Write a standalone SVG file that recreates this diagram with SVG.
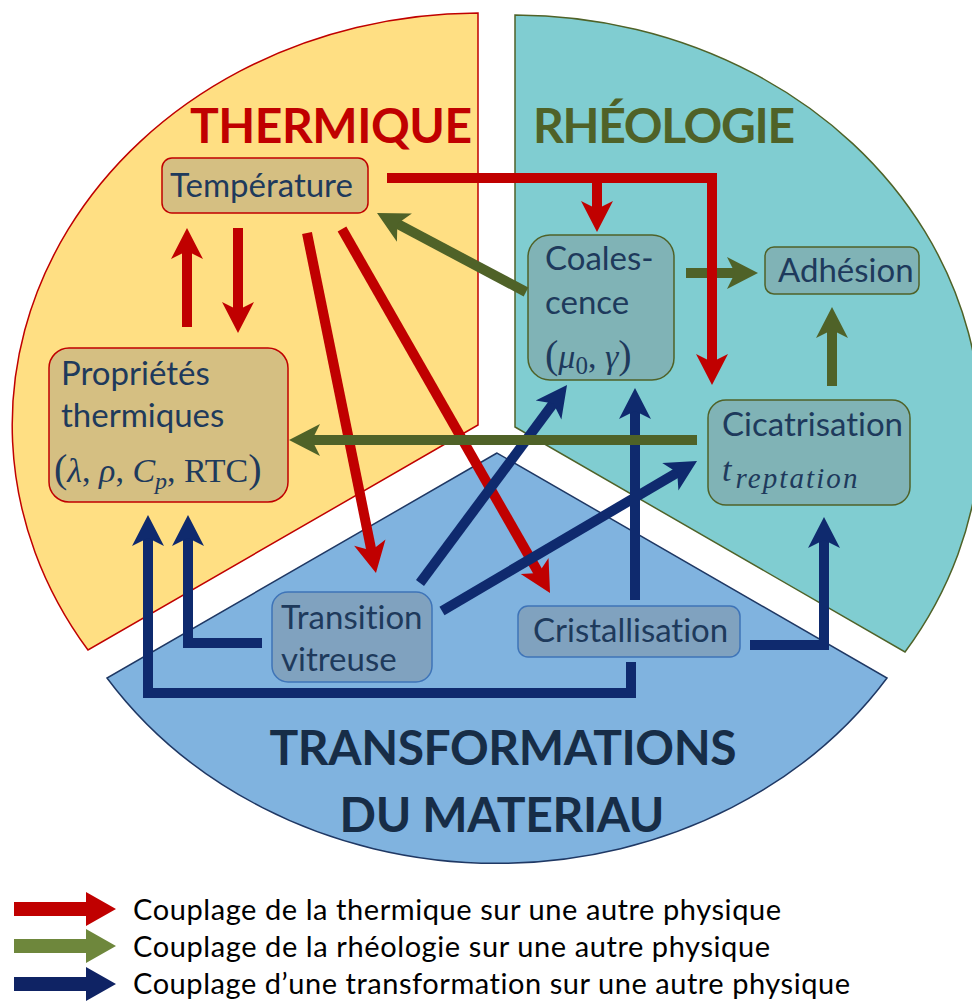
<svg xmlns="http://www.w3.org/2000/svg" width="972" height="1001" viewBox="0 0 972 1001">
<defs>
<style>
text{font-variant-ligatures:none;font-feature-settings:"liga" 0,"dlig" 0}
.sec{stroke-width:1.5}
.title{font-family:Lato,'Open Sans',sans-serif;font-weight:700;font-size:48px}
.node{fill:#808080;fill-opacity:0.33;stroke-width:1.5}
.nt{font-family:Lato,'Open Sans',sans-serif;font-size:33px;fill:#1E3A5C}
.math{font-family:'Liberation Serif','DejaVu Serif',serif;font-size:34px;fill:#1E3A5C}
.it{font-style:italic}
.c{fill:none;stroke-width:10;stroke-linejoin:miter}
.r{stroke:#C00000}
.g{stroke:#4F6228}
.b{stroke:#0F2A6E}
.lg{font-family:Lato,'Open Sans',sans-serif;font-size:29px;fill:#000}
</style>
<marker id="ar" markerUnits="userSpaceOnUse" viewBox="-32 -17 34 34" markerWidth="34" markerHeight="34" refX="-20" refY="0" orient="auto"><path d="M0,0 L-31,-16 L-23,0 L-31,16 Z" fill="#C00000"/></marker>
<marker id="ag" markerUnits="userSpaceOnUse" viewBox="-32 -17 34 34" markerWidth="34" markerHeight="34" refX="-20" refY="0" orient="auto"><path d="M0,0 L-31,-16 L-23,0 L-31,16 Z" fill="#4F6228"/></marker>
<marker id="ab" markerUnits="userSpaceOnUse" viewBox="-32 -17 34 34" markerWidth="34" markerHeight="34" refX="-20" refY="0" orient="auto"><path d="M0,0 L-31,-16 L-23,0 L-31,16 Z" fill="#0F2A6E"/></marker>
</defs>
<rect width="972" height="1001" fill="#FFFFFF"/>
<g id="sectors">
<path class="sec" d="M478,425 L478,13 A467,412 0 0 0 88,650 Z" fill="#FFDF83" stroke="#C00000"/>
<path class="sec" d="M515,427 L515,15 A467,412 0 0 1 905,652 Z" fill="#80CDD1" stroke="#4F6228"/>
<path class="sec" d="M497,453 L107,678 A467,412 0 0 0 887,678 Z" fill="#80B3DF" stroke="#1F3864"/>
</g>
<g id="titles">
<text class="title" x="190" y="143" fill="#C00000" textLength="282">THERMIQUE</text>
<text class="title" x="533" y="143" fill="#4F6228" textLength="262">RHÉOLOGIE</text>
<text class="title" x="503" y="765" fill="#172D47" text-anchor="middle" textLength="467">TRANSFORMATIONS</text>
<text class="title" x="502" y="832" fill="#172D47" text-anchor="middle" textLength="325">DU MATERIAU</text>
</g>
<g id="temperature">
<rect class="node" x="162" y="158" width="206" height="55" rx="10" stroke="#C00000"/>
<text class="nt" x="170" y="197">Température</text>
</g>
<g id="proprietes">
<rect class="node" x="49" y="348" width="239" height="154" rx="20" stroke="#C00000"/>
<text class="nt" x="61" y="385">Propriétés</text>
<text class="nt" x="61" y="427">thermiques</text>
<text class="math" x="54" y="482"><tspan font-size="40">(</tspan><tspan class="it">λ</tspan>, <tspan class="it">ρ</tspan>, <tspan class="it">C</tspan><tspan class="it" font-size="24" dy="7">p</tspan><tspan dy="-7">, RTC</tspan><tspan font-size="40">)</tspan></text>
</g>
<g id="coalescence">
<rect class="node" x="528" y="235" width="146" height="145" rx="22" stroke="#4F6228"/>
<text class="nt" x="545" y="270">Coales-</text>
<text class="nt" x="545" y="314">cence</text>
<text class="math" x="545" y="368" font-size="36"><tspan font-size="40">(</tspan><tspan class="it">μ</tspan><tspan font-size="25" dy="6">0</tspan><tspan dy="-6">, </tspan><tspan class="it">γ</tspan><tspan font-size="40">)</tspan></text>
</g>
<g id="adhesion">
<rect class="node" x="765" y="247" width="154" height="47" rx="9" stroke="#4F6228"/>
<text class="nt" x="778" y="282">Adhésion</text>
</g>
<g id="cicatrisation">
<rect class="node" x="708" y="400" width="202" height="105" rx="18" stroke="#4F6228"/>
<text class="nt" x="722" y="436">Cicatrisation</text>
<text class="math" x="722" y="481" font-size="38"><tspan class="it">t</tspan><tspan class="it" font-size="29" dx="4" dy="7" textLength="122">reptation</tspan></text>
</g>
<g id="transition">
<rect class="node" x="272" y="592" width="160" height="90" rx="16" stroke="#3E74B8"/>
<text class="nt" x="281" y="629">Transition</text>
<text class="nt" x="281" y="671">vitreuse</text>
</g>
<g id="cristallisation">
<rect class="node" x="518" y="606" width="222" height="51" rx="10" stroke="#3E74B8"/>
<text class="nt" x="533" y="642">Cristallisation</text>
</g>
<g id="connectors">
<path class="c r" d="M307,233 L372,553.4" marker-end="url(#ar)"/>
<path class="c r" d="M342,229 L540.1,575.6" marker-end="url(#ar)"/>
<path class="c b" d="M420,583 L555.1,401.1" marker-end="url(#ab)"/>
<path class="c b" d="M442,611 L679.8,471.1" marker-end="url(#ab)"/>
<path class="c b" d="M635,600 V408" marker-end="url(#ab)"/>
<path class="c b" d="M631,662 V693 H148 V535" marker-end="url(#ab)"/>
<path class="c b" d="M262,643 H188 V535" marker-end="url(#ab)"/>
<path class="c b" d="M750,645 H824 V537" marker-end="url(#ab)"/>
<path class="c g" d="M697,440 H309" marker-end="url(#ag)"/>
<path class="c g" d="M526,292 L394.7,222.4" marker-end="url(#ag)"/>
<path class="c g" d="M832,386 V327" marker-end="url(#ag)"/>
<path class="c g" d="M686,273 H738" marker-end="url(#ag)"/>
<path class="c r" d="M387,178 H712 V365" marker-end="url(#ar)"/>
<path class="c r" d="M597,178 V212" marker-end="url(#ar)"/>
<path class="c r" d="M187,327 V248" marker-end="url(#ar)"/>
<path class="c r" d="M238,228 V313" marker-end="url(#ar)"/>
</g>
<g id="legend">
<polygon points="14,902 86,902 86,892 116,909 86,926 86,916 14,916" fill="#C00000"/>
<polygon points="14,939 86,939 86,929 116,946 86,963 86,953 14,953" fill="#6E873C"/>
<polygon points="14,977 86,977 86,967 116,984 86,1001 86,991 14,991" fill="#0F2364"/>
<text class="lg" x="133" y="920" textLength="648">Couplage de la thermique sur une autre physique</text>
<text class="lg" x="133" y="957" textLength="637">Couplage de la rhéologie sur une autre physique</text>
<text class="lg" x="133" y="994" textLength="717">Couplage d’une transformation sur une autre physique</text>
</g>
</svg>
